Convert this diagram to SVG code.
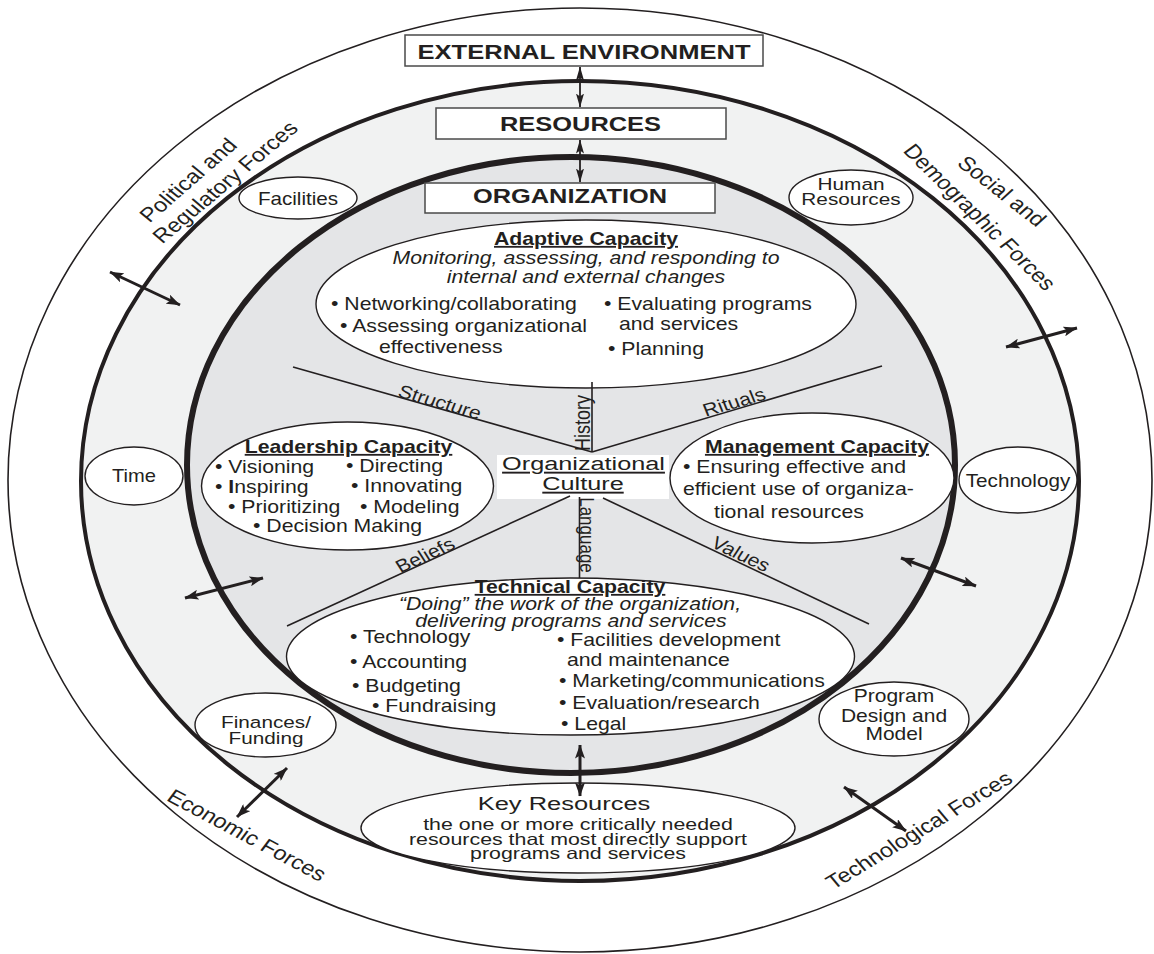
<svg xmlns="http://www.w3.org/2000/svg" width="1154" height="954" viewBox="0 0 1154 954">
<defs>
<style>
text{font-family:"Liberation Sans",Arial,Helvetica,sans-serif;fill:#231f20;font-size:18px}
.b{font-weight:bold}
.i{font-style:italic}
.u{text-decoration:underline}
.m{text-anchor:middle}
.s16{font-size:16.3px}
.s165{font-size:16.5px}
.s17{font-size:17px}
.s175{font-size:17.5px}
.s19{font-size:19px}
.s20{font-size:20px}
.s205{font-size:20.5px}
.s21{font-size:21px}
.box{fill:#fff;stroke:#4a4a4a;stroke-width:1.5}
.node{fill:#fff;stroke:#231f20;stroke-width:1.4}
.div{stroke:#231f20;stroke-width:1.6;fill:none}
.arr{stroke:#231f20;stroke-width:3;fill:none;marker-start:url(#ah);marker-end:url(#ah)}
.arrt{stroke:#231f20;stroke-width:1.8;fill:none;marker-start:url(#ah2);marker-end:url(#ah2)}
</style>
<marker id="ah" viewBox="0 0 14 10" refX="13.5" refY="5" markerWidth="14" markerHeight="10" markerUnits="userSpaceOnUse" orient="auto-start-reverse"><path d="M0,0 L14,5 L0,10 L3,5 Z" fill="#231f20"/></marker>
<marker id="ah2" viewBox="0 0 14 8" refX="13.5" refY="4" markerWidth="14" markerHeight="8" markerUnits="userSpaceOnUse" orient="auto-start-reverse"><path d="M0,0 L14,4 L0,8 L3,4 Z" fill="#231f20"/></marker>
</defs>
<rect width="1154" height="954" fill="#fff"/>

<g id="external-environment">
<ellipse cx="580" cy="480" rx="572" ry="472" fill="#fff" stroke="#231f20" stroke-width="1.6"/>
<text class="m s20" transform="translate(188 180) scale(1.18 1) rotate(-45.7)" dy=".35em">Political and</text>
<text class="m s20" transform="translate(225 182) scale(1.18 1) rotate(-44.7)" dy=".35em">Regulatory Forces</text>
<text class="m s20" transform="translate(1002 191) scale(1.18 1) rotate(42.7)" dy=".35em">Social and</text>
<text class="m s20" transform="translate(980 217) scale(1.18 1) rotate(49.2)" dy=".35em">Demographic Forces</text>
<text class="m s20" transform="translate(247 835) scale(1.18 1) rotate(32.1)" dy=".35em">Economic Forces</text>
<text class="m s20" transform="translate(919 830) scale(1.18 1) rotate(-35.3)" dy=".35em">Technological Forces</text>
</g>

<g id="resources">
<ellipse cx="580" cy="481" rx="499" ry="400" fill="#f1f2f2" stroke="#231f20" stroke-width="4"/>
</g>

<g id="organization">
<ellipse cx="571" cy="465" rx="384" ry="308" fill="#e4e5e7" stroke="#231f20" stroke-width="6"/>
</g>

<g id="adaptive-capacity">
<ellipse class="node" cx="586" cy="304" rx="270" ry="84"/>
<text class="b u m" transform="translate(586 245) scale(1.18 1)">Adaptive Capacity</text>
<text class="i m" transform="translate(586 264) scale(1.18 1)">Monitoring, assessing, and responding to</text>
<text class="i m" transform="translate(586 283) scale(1.18 1)">internal and external changes</text>
<text transform="translate(331 310) scale(1.18 1)">• Networking/collaborating</text>
<text transform="translate(604 310) scale(1.18 1)">• Evaluating programs</text>
<text transform="translate(340 332) scale(1.18 1)">• Assessing organizational</text>
<text transform="translate(619 330) scale(1.18 1)">and services</text>
<text transform="translate(379 353) scale(1.18 1)">effectiveness</text>
<text transform="translate(608 355) scale(1.18 1)">• Planning</text>
</g>

<g id="leadership-capacity">
<ellipse class="node" cx="347.5" cy="486" rx="146" ry="64"/>
<text class="b u m" transform="translate(348.5 453) scale(1.18 1)">Leadership Capacity</text>
<text transform="translate(215 473) scale(1.18 1)">• Visioning</text>
<text transform="translate(346 472) scale(1.18 1)">• Directing</text>
<text transform="translate(215 493) scale(1.18 1)">• <tspan class="b">I</tspan>nspiring</text>
<text transform="translate(351 492) scale(1.18 1)">• Innovating</text>
<text transform="translate(228 513) scale(1.18 1)">• Prioritizing</text>
<text transform="translate(360 513) scale(1.18 1)">• Modeling</text>
<text transform="translate(253 532) scale(1.18 1)">• Decision Making</text>
</g>

<g id="management-capacity">
<ellipse class="node" cx="812" cy="478" rx="142" ry="65"/>
<text class="b u m" transform="translate(817 453) scale(1.18 1)">Management Capacity</text>
<text transform="translate(683 473) scale(1.18 1)">• Ensuring effective and</text>
<text transform="translate(683 495) scale(1.18 1)">efficient use of organiza-</text>
<text transform="translate(714 518) scale(1.18 1)">tional resources</text>
</g>

<g id="technical-capacity">
<ellipse class="node" cx="570.5" cy="656.5" rx="284" ry="78.5"/>
<text class="b u m" transform="translate(570 593) scale(1.18 1)">Technical Capacity</text>
<text class="i m" transform="translate(570 610) scale(1.18 1)">“Doing” the work of the organization,</text>
<text class="i m" transform="translate(571 627) scale(1.18 1)">delivering programs and services</text>
<text transform="translate(350 643) scale(1.18 1)">• Technology</text>
<text transform="translate(350 668) scale(1.18 1)">• Accounting</text>
<text transform="translate(352 692) scale(1.18 1)">• Budgeting</text>
<text transform="translate(372 712) scale(1.18 1)">• Fundraising</text>
<text transform="translate(557 646) scale(1.18 1)">• Facilities development</text>
<text transform="translate(567 666) scale(1.18 1)">and maintenance</text>
<text transform="translate(559 687) scale(1.18 1)">• Marketing/communications</text>
<text transform="translate(559 709) scale(1.18 1)">• Evaluation/research</text>
<text transform="translate(561 730) scale(1.18 1)">•  Legal</text>
</g>

<g id="organizational-culture">
<rect x="497" y="455" width="172" height="44" fill="#fff"/>
<text class="u m s19" transform="translate(583.5 470) scale(1.33 1)">Organizational</text>
<text class="u m s19" transform="translate(583 490) scale(1.33 1)">Culture</text>
</g>

<g id="culture-dividers">
<line class="div" x1="293" y1="367" x2="592" y2="452"/>
<line class="div" x1="592" y1="452" x2="882" y2="366"/>
<line class="div" x1="287" y1="626" x2="570" y2="496"/>
<line class="div" x1="603" y1="498" x2="869" y2="624"/>
<line class="div" x1="592" y1="382" x2="592" y2="452"/>
<line class="div" x1="579.5" y1="497" x2="579.5" y2="578"/>
<text class="m" transform="translate(440 402) scale(1.18 1) rotate(18.7)" dy=".35em">Structure</text>
<text class="m" transform="translate(734 402) scale(1.18 1) rotate(-18.7)" dy=".35em">Rituals</text>
<text class="m" transform="translate(425 555) scale(1.18 1) rotate(-28.3)" dy=".35em">Beliefs</text>
<text class="m" transform="translate(741 554) scale(1.18 1) rotate(28.8)" dy=".35em">Values</text>
<text class="m" transform="translate(583 423) scale(1.18 1) rotate(-90)" dy=".35em">History</text>
<text class="m s17" transform="translate(587 535) scale(1.18 1) rotate(90)" dy=".35em">Language</text>
</g>

<g id="facilities">
<ellipse class="node" cx="298" cy="198" rx="59" ry="21"/>
<text class="m s175" transform="translate(298 205) scale(1.18 1)">Facilities</text>
</g>
<g id="human-resources">
<ellipse class="node" cx="851" cy="197.5" rx="62" ry="27.5"/>
<text class="m s165" transform="translate(851 190) scale(1.26 1)">Human</text>
<text class="m s165" transform="translate(851 205) scale(1.26 1)">Resources</text>
</g>
<g id="time">
<ellipse class="node" cx="134" cy="476" rx="49" ry="29"/>
<text class="m s175" transform="translate(134 482) scale(1.15 1)">Time</text>
</g>
<g id="technology">
<ellipse class="node" cx="1018" cy="480" rx="59" ry="33"/>
<text class="m s175" transform="translate(1018 487) scale(1.18 1)">Technology</text>
</g>
<g id="finances-funding">
<ellipse class="node" cx="265.5" cy="725" rx="70.5" ry="32"/>
<text class="m s17" transform="translate(266 728) scale(1.22 1)">Finances/</text>
<text class="m s17" transform="translate(266 744) scale(1.22 1)">Funding</text>
</g>
<g id="program-design">
<ellipse class="node" cx="894" cy="719" rx="75" ry="37"/>
<text class="m s175" transform="translate(894 702) scale(1.2 1)">Program</text>
<text class="m s175" transform="translate(894 722) scale(1.2 1)">Design and</text>
<text class="m s175" transform="translate(894 740) scale(1.2 1)">Model</text>
</g>
<g id="key-resources">
<ellipse class="node" cx="578" cy="828" rx="217" ry="45"/>
<text class="m s19" transform="translate(564 810) scale(1.34 1)">Key Resources</text>
<text class="m s16" transform="translate(578 830) scale(1.31 1)">the one or more critically needed</text>
<text class="m s16" transform="translate(578 845) scale(1.31 1)">resources that most directly support</text>
<text class="m s16" transform="translate(578 859) scale(1.31 1)">programs and services</text>
</g>

<g id="box-external">
<rect class="box" x="405" y="35" width="358" height="31"/>
<text class="b m s21" x="584" y="59" textLength="333" lengthAdjust="spacingAndGlyphs">EXTERNAL ENVIRONMENT</text>
</g>
<g id="box-resources">
<rect class="box" x="436" y="108" width="290" height="31"/>
<text class="b m s20" x="580.5" y="131" textLength="161" lengthAdjust="spacingAndGlyphs">RESOURCES</text>
</g>
<g id="box-organization">
<rect class="box" x="425" y="183" width="290" height="30"/>
<text class="b m s205" x="570" y="203" textLength="194" lengthAdjust="spacingAndGlyphs">ORGANIZATION</text>
</g>

<g id="connectors">
<line class="arrt" x1="580" y1="67" x2="580" y2="107"/>
<line class="arrt" x1="580" y1="140" x2="580" y2="182"/>
<line class="arr" x1="110" y1="272" x2="180" y2="305"/>
<line class="arr" x1="1006" y1="347" x2="1077" y2="328"/>
<line class="arr" x1="185" y1="598" x2="263" y2="578"/>
<line class="arr" x1="901" y1="558" x2="976" y2="586"/>
<line class="arr" x1="237" y1="817" x2="287" y2="768"/>
<line class="arr" x1="844" y1="787" x2="906" y2="831"/>
<line class="arr" x1="580" y1="745" x2="580" y2="796"/>
</g>
</svg>
